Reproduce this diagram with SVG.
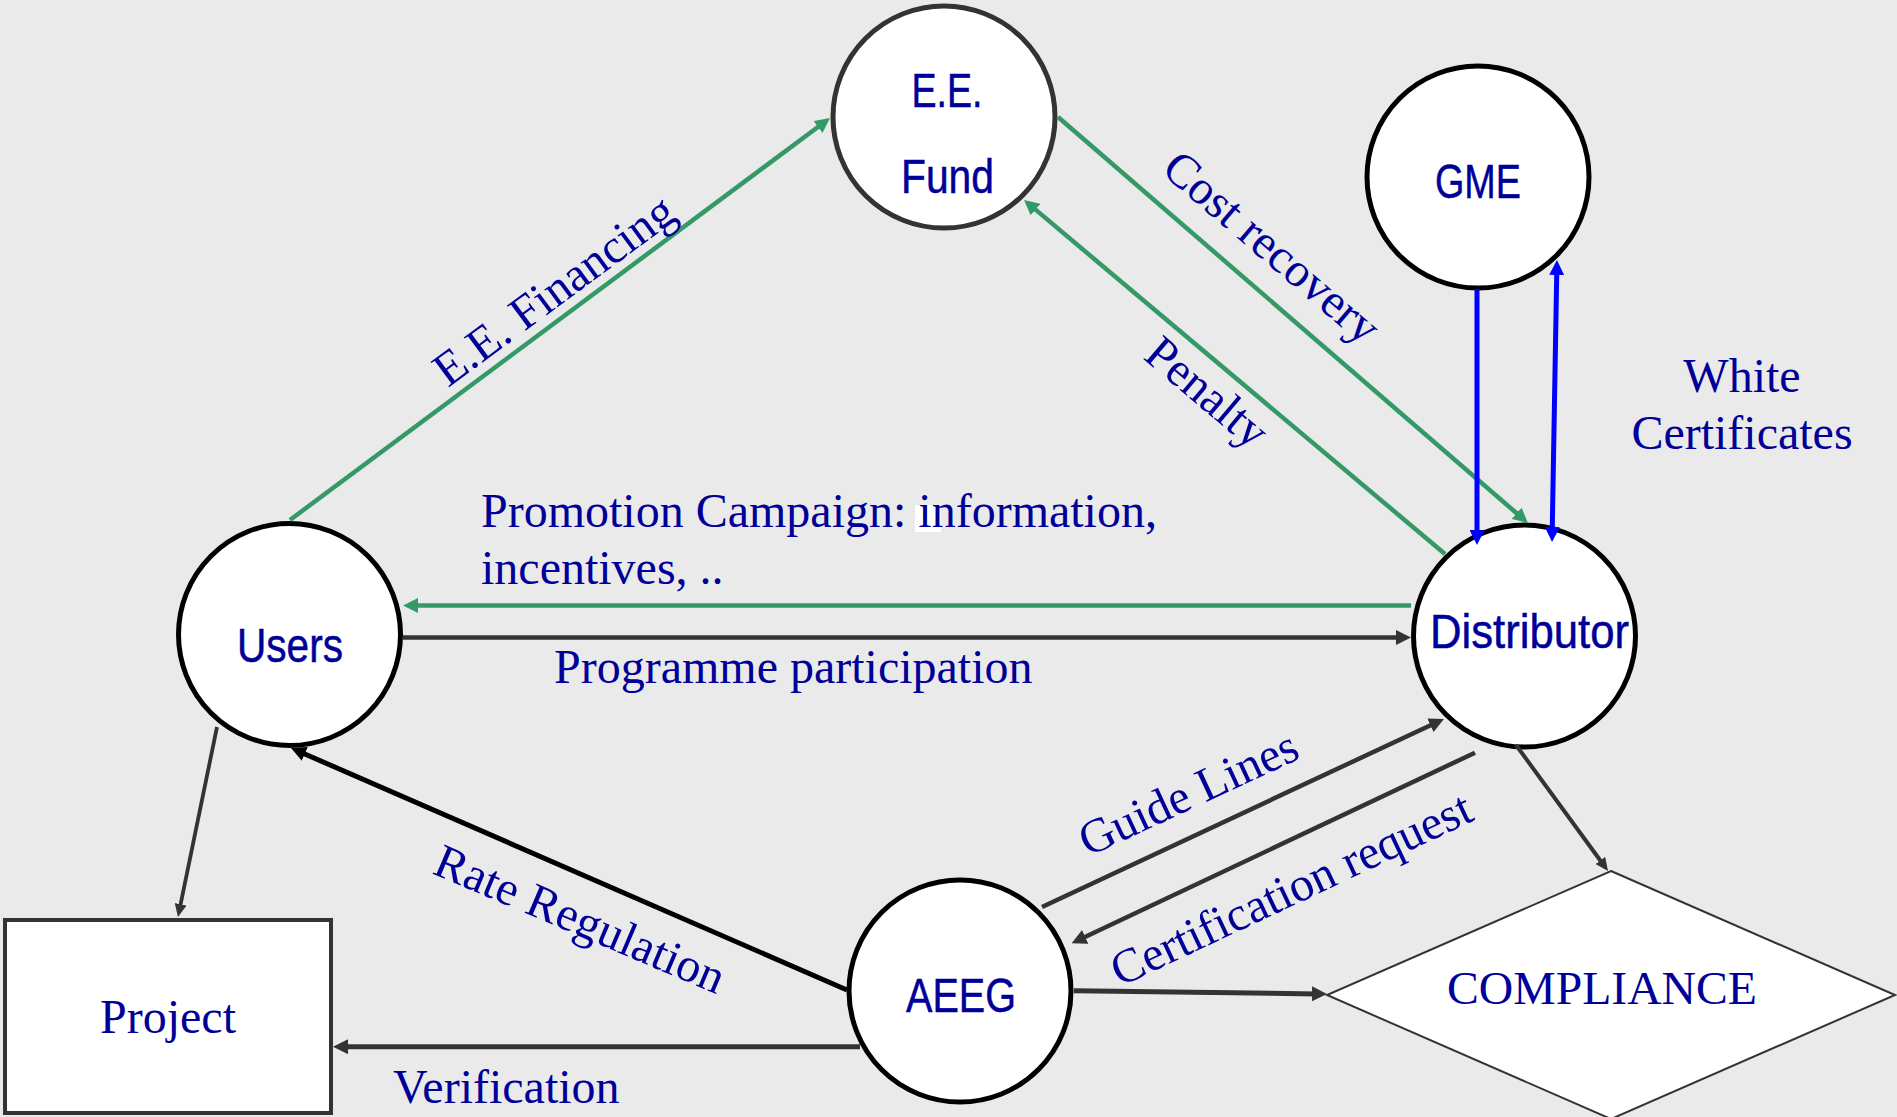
<svg xmlns="http://www.w3.org/2000/svg" width="1897" height="1117" viewBox="0 0 1897 1117">
  <style>
    .node { fill: #ffffff; stroke: #000000; stroke-width: 5; }
    .node-gray { stroke: #333333; }
    .nlabel { font-family: "Liberation Sans Narrow", "Liberation Sans", Arial, sans-serif; font-size: 48px; fill: #000099; stroke: #000099; stroke-width: 0.5; text-anchor: middle; }
    .elabel { font-family: "Liberation Serif", "Times New Roman", serif; font-size: 48px; fill: #000099; }
    .mid { text-anchor: middle; }
    .green { fill: none; stroke: #339966; stroke-width: 4.5; marker-end: url(#arrow-green); }
    .blue { fill: none; stroke: #0000ff; stroke-width: 5; marker-end: url(#arrow-blue); }
    .dark { fill: none; stroke: #333333; stroke-width: 4.5; marker-end: url(#arrow-dark); }
    .dark-thin { fill: none; stroke: #333333; stroke-width: 3.8; marker-end: url(#arrow-dark-small); }
    .black { fill: none; stroke: #000000; stroke-width: 5; marker-end: url(#arrow-black); }
  </style>
  <defs>
    <!-- arrowheads: tip sits 10 units past the path end -->
    <marker id="arrow-green" viewBox="0 0 15 15" refX="5" refY="7.5" markerWidth="15" markerHeight="15" markerUnits="userSpaceOnUse" orient="auto">
      <path d="M0,0 L15,7.5 L0,15 z" fill="#339966"/>
    </marker>
    <marker id="arrow-blue" viewBox="0 0 15 15" refX="5" refY="7.5" markerWidth="15" markerHeight="15" markerUnits="userSpaceOnUse" orient="auto-start-reverse">
      <path d="M0,0 L15,7.5 L0,15 z" fill="#0000ff"/>
    </marker>
    <marker id="arrow-dark" viewBox="0 0 15 15" refX="5" refY="7.5" markerWidth="15" markerHeight="15" markerUnits="userSpaceOnUse" orient="auto">
      <path d="M0,0 L15,7.5 L0,15 z" fill="#333333"/>
    </marker>
    <marker id="arrow-black" viewBox="0 0 15 15" refX="5" refY="7.5" markerWidth="15" markerHeight="15" markerUnits="userSpaceOnUse" orient="auto">
      <path d="M0,0 L15,7.5 L0,15 z" fill="#000000"/>
    </marker>
    <marker id="arrow-dark-small" viewBox="0 0 13 12" refX="4" refY="6" markerWidth="13" markerHeight="12" markerUnits="userSpaceOnUse" orient="auto">
      <path d="M0,0 L13,6 L0,12 z" fill="#333333"/>
    </marker>
  </defs>

  <!-- background -->
  <rect x="0" y="0" width="1897" height="1117" fill="#eaeaea"/>

  <!-- nodes -->
  <g id="node-ee-fund">
    <circle class="node node-gray" cx="944" cy="117" r="111"/>
    <text class="nlabel" x="947" y="107" textLength="71" lengthAdjust="spacingAndGlyphs">E.E.</text>
    <text class="nlabel" x="947.5" y="193" textLength="93" lengthAdjust="spacingAndGlyphs">Fund</text>
  </g>
  <g id="node-gme">
    <circle class="node" cx="1478" cy="177" r="111"/>
    <text class="nlabel" x="1478" y="198" textLength="86" lengthAdjust="spacingAndGlyphs">GME</text>
  </g>
  <g id="node-users">
    <circle class="node" cx="289.5" cy="634.5" r="111"/>
    <text class="nlabel" x="290" y="662" textLength="106" lengthAdjust="spacingAndGlyphs">Users</text>
  </g>
  <g id="node-distributor">
    <circle class="node" cx="1524.5" cy="636" r="111"/>
    <text class="nlabel" x="1529.5" y="648" textLength="199" lengthAdjust="spacingAndGlyphs">Distributor</text>
  </g>
  <g id="node-aeeg">
    <circle class="node" cx="960" cy="991" r="111"/>
    <text class="nlabel" x="961" y="1012" textLength="110" lengthAdjust="spacingAndGlyphs">AEEG</text>
  </g>
  <g id="node-project">
    <rect x="5" y="920" width="326" height="193" fill="#ffffff" stroke="#333333" stroke-width="4"/>
    <text class="elabel mid" x="168" y="1033">Project</text>
  </g>
  <g id="node-compliance">
    <polygon points="1611,871 1895,995 1611,1119 1327,995" fill="#ffffff" stroke="#333333" stroke-width="2"/>
    <text class="elabel mid" x="1602" y="1004" style="font-size:47px" textLength="310" lengthAdjust="spacingAndGlyphs">COMPLIANCE</text>
  </g>

  <!-- connectors -->
  <g id="connectors">
    <path class="green" d="M290,520 L822,124"/>
    <path class="green" d="M1058,117 L1520.4,516.5"/>
    <path class="green" d="M1445,554 L1031.7,206.4"/>
    <path class="green" d="M1411,605.5 L413,605.5"/>
    <path class="dark" d="M403,637.5 L1401,637.5"/>
    <path class="blue" d="M1477,289 L1477,535"/>
    <path class="blue" d="M1556.8,270 L1552.2,532" marker-start="url(#arrow-blue)"/>
    <path class="dark-thin" d="M217,727 L179.8,908.2"/>
    <path class="black" d="M847,990 L300.2,752"/>
    <path class="dark" style="stroke-width:5" d="M860,1046.7 L343,1046.7"/>
    <path class="dark" d="M1042,907 L1434.9,723.2"/>
    <path class="dark" d="M1475,752.7 L1080.7,939"/>
    <path class="dark-thin" style="stroke-width:4" d="M1516,745 L1602.7,863.7"/>
    <path class="dark" style="stroke-width:5" d="M1074,990.7 L1317,993.9"/>
  </g>

  <!-- connector labels -->
  <g id="labels">
    <rect x="915" y="505" width="26" height="27" fill="#ffffff"/>
    <text class="elabel" transform="translate(448,388) rotate(-36.4)">E.E. Financing</text>
    <text class="elabel" transform="translate(1160,172) rotate(40.6)">Cost recovery</text>
    <text class="elabel" transform="translate(1142,358) rotate(40.1)">Penalty</text>
    <text class="elabel" x="481" y="527">Promotion Campaign: information,</text>
    <text class="elabel" x="481" y="584">incentives, ..</text>
    <text class="elabel" x="554" y="683">Programme participation</text>
    <text class="elabel mid" x="1742" y="392">White</text>
    <text class="elabel mid" x="1742" y="449">Certificates</text>
    <text class="elabel" transform="translate(1088,857) rotate(-24.9)">Guide Lines</text>
    <text class="elabel" transform="translate(1120,987) rotate(-25.2)">Certification request</text>
    <text class="elabel" transform="translate(431,873) rotate(23)">Rate Regulation</text>
    <text class="elabel" x="393" y="1103">Verification</text>
  </g>
</svg>
